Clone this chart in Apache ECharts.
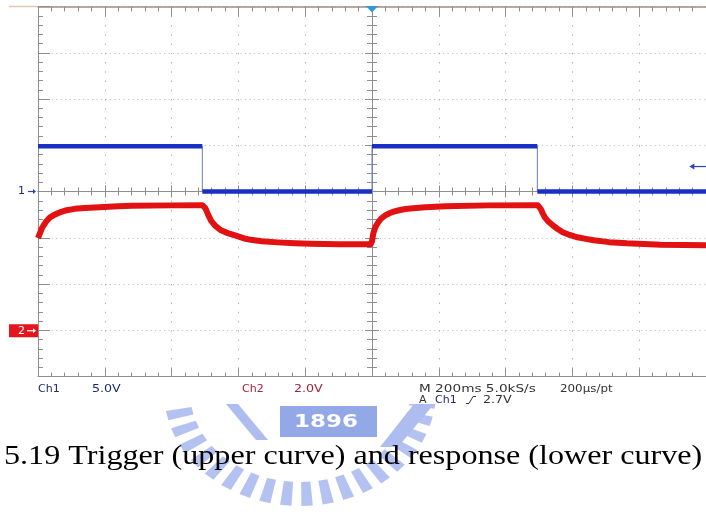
<!DOCTYPE html>
<html>
<head>
<meta charset="utf-8">
<script src="https://cdn.jsdelivr.net/npm/echarts@6/dist/echarts.min.js"></script>
<style>
  html, body { margin: 0; padding: 0; background: #fff; }
  #scope { width: 706px; height: 512px; }
</style>
</head>
<body>
<div id="scope"></div>
<script>
// Time base: ms relative to the trigger point, 200 ms per division
const timeMin = -1000;
const timeMax = 1000;
const timeStep = 200;

// Vertical scales: Ch1 at 5 V/div, Ch2 at 2 V/div (8 divisions each)
const ch1Min = -20, ch1Max = 20, ch1Step = 5;
const ch2Min = -2, ch2Max = 14, ch2Step = 2;

// Ch1 trigger square wave, [ms, V]
const ch1Trace = [
  [-1000, 4.9], [-508, 4.9], [-508, 0], [0, 0],
  [0, 4.9], [495, 4.9], [495, 0], [1000, 0]
];

// Ch2 response, [ms, V]
const ch2Trace = [
  [-1000, 3.98], [-994, 4.2], [-988, 4.42], [-976, 4.7], [-964, 4.88],
  [-950, 5.0], [-930, 5.12], [-914, 5.19], [-890, 5.25], [-860, 5.29],
  [-816, 5.32], [-760, 5.36], [-719, 5.38], [-600, 5.40], [-508, 5.41],
  [-499, 5.28], [-490, 4.98], [-481, 4.72], [-468, 4.50], [-452, 4.32],
  [-432, 4.20], [-410, 4.10], [-385, 3.98], [-363, 3.91], [-330, 3.85],
  [-283, 3.80], [-230, 3.76], [-185, 3.74], [-100, 3.72], [-4, 3.72],
  [0, 3.85], [4, 4.19], [8, 4.38], [13, 4.54], [20, 4.70], [28, 4.84],
  [40, 4.97], [52, 5.06], [65, 5.13], [81, 5.19], [100, 5.24], [123, 5.28],
  [160, 5.32], [221, 5.36], [350, 5.40], [496, 5.41],
  [505, 5.25], [511, 5.06], [517, 4.89], [528, 4.70], [541, 4.54],
  [556, 4.38], [571, 4.24], [592, 4.12], [615, 4.02], [640, 3.95],
  [664, 3.89], [710, 3.81], [763, 3.76], [864, 3.70], [1000, 3.68]
];

// Trigger level on Ch1 (V)
const triggerLevel = 2.7;

// Readout texts
const ch1Readout = ['Ch1', '5.0V'];
const ch2Readout = ['Ch2', '2.0V'];
const timeReadout = ['M 200ms 5.0kS/s', '200\u00b5s/pt'];
const trigReadout = ['A', 'Ch1', '2.7V'];
const captionText = '5.19 Trigger (upper curve) and response (lower curve)';
const sealText = '1896';

// Level segments of the square wave: break the line at vertical edges
const ch1Levels = [];
ch1Trace.forEach((pt, i) => {
  const prev = ch1Trace[i - 1];
  if (prev && prev[0] === pt[0]) ch1Levels.push([pt[0], null]);
  ch1Levels.push(pt);
});

const frame = '#8e8e8e';
const scopeFont = 'DejaVu Sans';

function timeAxis(extra) {
  return Object.assign({
    type: 'value', min: timeMin, max: timeMax, interval: timeStep,
    axisLabel: { show: false }, splitLine: { show: false }
  }, extra);
}
function ch1Axis(extra) {
  return Object.assign({
    type: 'value', min: ch1Min, max: ch1Max, interval: ch1Step,
    axisLabel: { show: false }, splitLine: { show: false }
  }, extra);
}
const tick = (inside, len) => ({ show: true, inside: inside, length: len, lineStyle: { color: frame, width: 1 } });
const minor = (len) => ({ show: true, splitNumber: 5, length: len, lineStyle: { color: frame, width: 1 } });

const chart = echarts.init(document.getElementById('scope'), null, { renderer: 'canvas' });

chart.setOption({
  animation: false,
  backgroundColor: '#ffffff',
  grid: { left: 38, top: 6.5, width: 675, height: 370, containLabel: false },
  xAxis: [
    // bottom frame with vertical graticule
    timeAxis({
      position: 'bottom',
      axisLine: { onZero: false, lineStyle: { color: frame, width: 1 } },
      axisTick: tick(true, 8), minorTick: minor(4),
      splitLine: { show: true, lineStyle: { color: '#b2b2b2', width: 1, type: [1.5, 7.75] } }
    }),
    // top frame
    timeAxis({
      position: 'top',
      axisLine: { onZero: false, lineStyle: { color: '#a68c7c', width: 1.5 } },
      axisTick: tick(true, 10), minorTick: minor(5)
    }),
    // centre horizontal line, ticks up
    timeAxis({
      position: 'bottom',
      axisLine: { onZero: true, onZeroAxisIndex: 0, lineStyle: { color: frame, width: 1 } },
      axisTick: tick(true, 6), minorTick: minor(4)
    }),
    // centre horizontal line, ticks down
    timeAxis({
      position: 'bottom',
      axisLine: { onZero: true, onZeroAxisIndex: 0, lineStyle: { color: frame, width: 1 } },
      axisTick: tick(false, 6), minorTick: minor(4)
    })
  ],
  yAxis: [
    // left frame with horizontal graticule (Ch1 scale)
    ch1Axis({
      position: 'left',
      axisLine: { onZero: false, lineStyle: { color: frame, width: 1 } },
      axisTick: tick(true, 12), minorTick: minor(5),
      splitLine: { show: true, lineStyle: { color: '#c2c2c2', width: 1, type: [1.2, 3.3] } }
    }),
    // Ch2 scale
    { type: 'value', min: ch2Min, max: ch2Max, interval: ch2Step, show: false },
    // centre vertical line, ticks right
    ch1Axis({
      position: 'left',
      axisLine: { onZero: true, onZeroAxisIndex: 0, lineStyle: { color: frame, width: 1 } },
      axisTick: tick(true, 7), minorTick: minor(5)
    }),
    // centre vertical line, ticks left
    ch1Axis({
      position: 'left',
      axisLine: { onZero: true, onZeroAxisIndex: 0, lineStyle: { color: frame, width: 1 } },
      axisTick: tick(false, 7), minorTick: minor(5)
    })
  ],
  series: [
    {
      name: 'Ch2', type: 'line', xAxisIndex: 0, yAxisIndex: 1, data: ch2Trace,
      showSymbol: false, smooth: false, silent: true, z: 3,
      lineStyle: { color: '#e31212', width: 6, join: 'round' }
    },
    {
      name: 'Ch1 edges', type: 'line', xAxisIndex: 0, yAxisIndex: 0, data: ch1Trace,
      showSymbol: false, silent: true, z: 4,
      lineStyle: { color: '#6a78c4', width: 1 }
    },
    {
      name: 'Ch1', type: 'line', xAxisIndex: 0, yAxisIndex: 0, data: ch1Levels,
      showSymbol: false, connectNulls: false, silent: true, z: 5,
      lineStyle: { color: '#1830c4', width: 4.5 }
    }
  ]
});

// Markers and readouts, positioned from the axes
const px = (t, v, yi) => chart.convertToPixel({ xAxisIndex: 0, yAxisIndex: yi }, [t, v]);
const g1 = px(timeMin, 0, 0);
const g2 = px(timeMin, 0, 1);
const trigTop = px(0, ch1Max, 0);
const lvl = px(950, triggerLevel, 0);
const rightEdge = 706;

const graphics = [];
const txt = (x, y, text, color, size, extra) => graphics.push(Object.assign({
  type: 'text', x: x, y: y, z: 20,
  style: { text: text, fill: color, font: (size || 11) + 'px "' + scopeFont + '"', verticalAlign: 'middle', align: 'left' }
}, extra || {}));

// Ch1 ground marker
txt(g1[0] - 20, g1[1], '1', '#1b2a7e', 11);
graphics.push({ type: 'line', z: 20, shape: { x1: g1[0] - 10, y1: g1[1], x2: g1[0] - 4, y2: g1[1] }, style: { stroke: '#2a44c0', lineWidth: 1.2 } });
graphics.push({ type: 'polygon', z: 20, shape: { points: [[g1[0] - 2, g1[1]], [g1[0] - 5, g1[1] - 2.5], [g1[0] - 5, g1[1] + 2.5]] }, style: { fill: '#2a44c0' } });

// Ch2 ground marker
graphics.push({ type: 'rect', z: 20, shape: { x: 9, y: g2[1] - 6, width: 29, height: 13 }, style: { fill: '#e3161d' } });
txt(18, g2[1] + 0.5, '2', '#ffffff', 11);
graphics.push({ type: 'line', z: 21, shape: { x1: 27, y1: g2[1] + 0.5, x2: 33, y2: g2[1] + 0.5 }, style: { stroke: '#ffffff', lineWidth: 1.2 } });
graphics.push({ type: 'polygon', z: 21, shape: { points: [[36, g2[1] + 0.5], [33, g2[1] - 2], [33, g2[1] + 3]] }, style: { fill: '#ffffff' } });

// Trigger position marker
graphics.push({ type: 'polygon', z: 20, shape: { points: [[trigTop[0] - 6, trigTop[1] - 0.5], [trigTop[0] + 6, trigTop[1] - 0.5], [trigTop[0], trigTop[1] + 6]] }, style: { fill: '#2f9ad6' } });

// Trigger level marker
graphics.push({ type: 'line', z: 20, shape: { x1: lvl[0] + 3, y1: lvl[1], x2: rightEdge, y2: lvl[1] }, style: { stroke: '#2a44c0', lineWidth: 1.2 } });
graphics.push({ type: 'polygon', z: 20, shape: { points: [[lvl[0], lvl[1]], [lvl[0] + 5, lvl[1] - 3], [lvl[0] + 5, lvl[1] + 3]] }, style: { fill: '#2a44c0' } });

// Top frame extension on the left
graphics.push({ type: 'line', z: 1, shape: { x1: 9, y1: 6.5, x2: 38, y2: 6.5 }, style: { stroke: '#e2c6b2', lineWidth: 1.5 } });

// Readouts
const navy = '#1c2b73', wine = '#a3213a', dark = '#333333';
txt(38, 389, ch1Readout[0], navy);
txt(92, 389, ch1Readout[1], navy, 11, { scaleX: 1.15 });
txt(242, 389, ch2Readout[0], wine);
txt(294, 389, ch2Readout[1], wine, 11, { scaleX: 1.15 });
txt(419, 389, timeReadout[0], dark, 11, { scaleX: 1.24 });
txt(560, 389, timeReadout[1], dark, 11, { scaleX: 1.08 });
txt(419, 400, trigReadout[0], dark);
txt(435, 400, trigReadout[1], navy);
graphics.push({ type: 'polyline', z: 20, shape: { points: [[466, 403.5], [469, 403.5], [473, 396.5], [476, 396.5]] }, style: { stroke: '#333', lineWidth: 1, fill: null } });
txt(483, 400, trigReadout[2], dark, 11, { scaleX: 1.15 });

// Seal watermark below the screen area
const wmColor = '#b3c2f1';
const sx = 300, sy = 392;
const rxi = 110, rxo = 136, ryi = 90, ryo = 114;
for (let a = 6; a <= 176; a += 9) {
  const a0 = (a - 2.4) * Math.PI / 180, a1 = (a + 2.4) * Math.PI / 180;
  graphics.push({
    type: 'polygon', z: -10,
    shape: { points: [
      [sx + rxi * Math.cos(a0), sy + ryi * Math.sin(a0)],
      [sx + rxo * Math.cos(a0), sy + ryo * Math.sin(a0)],
      [sx + rxo * Math.cos(a1), sy + ryo * Math.sin(a1)],
      [sx + rxi * Math.cos(a1), sy + ryi * Math.sin(a1)]
    ] },
    style: { fill: wmColor }
  });
}
graphics.push({ type: 'polygon', z: -10, shape: { points: [[414, 404], [434, 404], [398, 447], [380, 447]] }, style: { fill: '#aebdef' } });
graphics.push({ type: 'polygon', z: -10, shape: { points: [[226, 404], [238, 404], [268, 440], [256, 440]] }, style: { fill: '#aebdef' } });
graphics.push({ type: 'rect', z: -10, shape: { x: 280, y: 406, width: 97, height: 31 }, style: { fill: '#93a8e6' } });
graphics.push({ type: 'text', z: -9, x: 294, y: 423, scaleX: 1.35, style: { text: sealText, fill: '#ffffff', font: 'bold 17px "DejaVu Sans"', verticalAlign: 'middle', align: 'left' } });
// white screen area over the upper part of the seal
graphics.push({ type: 'rect', z: -5, shape: { x: 0, y: 0, width: 706, height: 404 }, style: { fill: '#ffffff' } });

// Caption
graphics.push({ type: 'text', z: 30, x: 4, y: 457, scaleX: 1.19, style: { text: captionText, fill: '#000000', font: '27px "Liberation Serif"', verticalAlign: 'middle', align: 'left' } });

chart.setOption({ graphic: { elements: graphics } });
</script>
</body>
</html>
